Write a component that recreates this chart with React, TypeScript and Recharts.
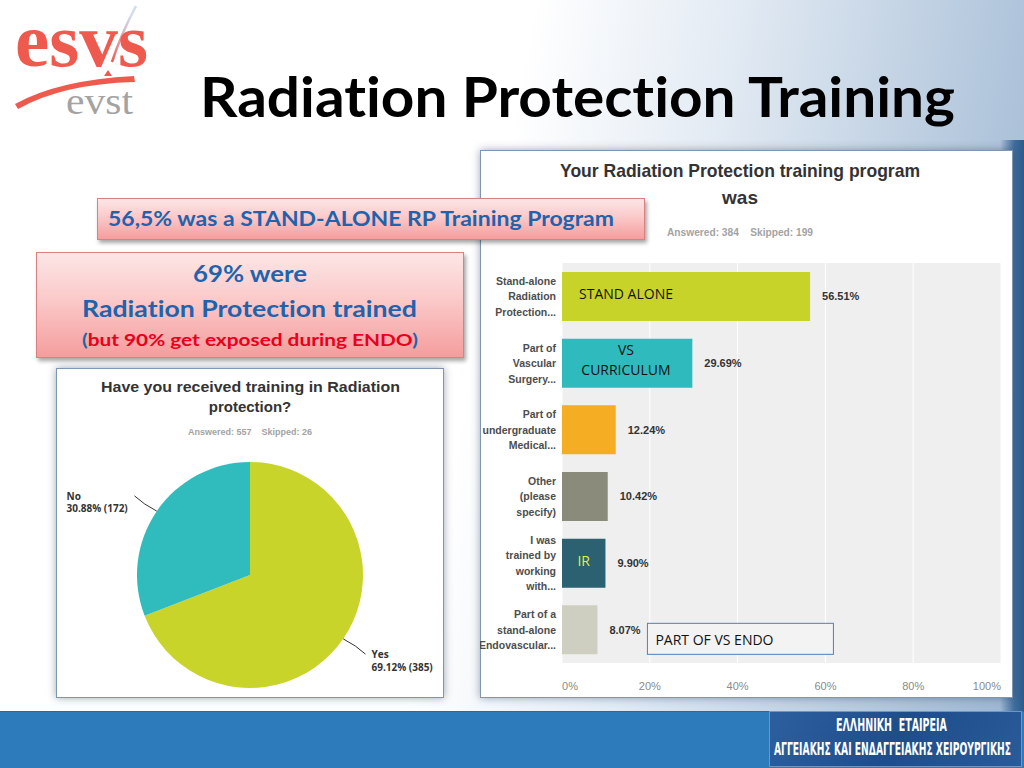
import { Bar, BarChart, CartesianGrid, Cell, LabelList, Pie, PieChart, XAxis, YAxis } from 'recharts';

// bar chart: "Your Radiation Protection training program was"
const programCategories = [
  'Stand-alone|Radiation|Protection...',
  'Part of|Vascular|Surgery...',
  'Part of|undergraduate|Medical...',
  'Other|(please|specify)',
  'I was|trained by|working|with...',
  'Part of a|stand-alone|Endovascular...',
];
const programShares = [56.51, 29.69, 12.24, 10.42, 9.9, 8.07];
const programNotes = ['STAND ALONE', 'VS|CURRICULUM', '', '', 'IR', ''];
const programCallouts = ['', '', '', '', '', 'PART OF VS ENDO'];
const axisTicks = [0, 20, 40, 60, 80, 100];

const programColors = ['#c8d32a', '#2fbbbd', '#f5ad23', '#8b8b7b', '#2b6171', '#cfcfc1'];
const noteColors = ['#111111', '#111111', '#111111', '#111111', '#e6f03a', '#111111'];

// pie chart: "Have you received training in Radiation protection?"
const trainedLabels = ['Yes', 'No'];
const trainedShares = [69.12, 30.88];
const trainedCounts = [385, 172];
const trainedColors = ['#c9d42b', '#30bcbd'];

const chartFont = '"Liberation Sans", Arial, sans-serif';
const slideFont = 'Lato, "Open Sans", sans-serif';
const RADIAN = Math.PI / 180;

const programData = programCategories.map((name, i) => ({
  name,
  value: programShares[i],
  note: programNotes[i],
  callout: programCallouts[i],
}));

const trainedData = trainedLabels.map((name, i) => ({
  name,
  value: trainedCounts[i],
  share: trainedShares[i],
}));

const CategoryTick = (props: any) => {
  const { x, y, payload } = props;
  const lines = String(payload.value).split('|');
  const lh = 15.5;
  const y0 = y - ((lines.length - 1) * lh) / 2;
  return (
    <text x={x} y={y0} textAnchor="end" dominantBaseline="central" fill="#4d4d4d" fontSize={10.5} fontWeight="bold" fontFamily={chartFont}>
      {lines.map((l, i) => (
        <tspan key={i} x={x} dy={i === 0 ? 0 : lh}>{l}</tspan>
      ))}
    </text>
  );
};

const PercentTick = (props: any) => {
  const { x, y, payload } = props;
  const v = payload.value;
  const anchor = v === axisTicks[0] ? 'start' : v === axisTicks[axisTicks.length - 1] ? 'end' : 'middle';
  return (
    <text x={x} y={y + 15} textAnchor={anchor} dominantBaseline="central" fill="#8a8a8a" fontSize={11} fontFamily={chartFont}>
      {v}%
    </text>
  );
};

const NoteLabel = (props: any) => {
  const { x, y, width, value, index } = props;
  if (!value) return null;
  const lines = String(value).split('|');
  const cx = x + Math.min(width / 2, 64);
  const color = noteColors[index] || '#111111';
  return (
    <text x={cx} textAnchor="middle" dominantBaseline="central" fill={color} fontSize={14} fontFamily='"Open Sans", sans-serif'>
      {lines.length === 1 ? (
        <tspan x={cx} y={y + 21}>{lines[0]}</tspan>
      ) : (
        lines.map((l, i) => (
          <tspan key={i} x={cx} y={y + 10 + i * 20}>{l}</tspan>
        ))
      )}
    </text>
  );
};

const CalloutLabel = (props: any) => {
  const { x, y, width, value } = props;
  if (!value) return null;
  const bx = x + width + 50;
  const by = y + 18;
  return (
    <g>
      <rect x={bx} y={by} width={186} height={31} fill="#f3f3f3" stroke="#4f81bd" strokeWidth={1} />
      <text x={bx + 8} y={by + 16} dominantBaseline="central" fill="#111" fontSize={14} fontFamily='"Open Sans", sans-serif'>
        {value}
      </text>
    </g>
  );
};

const renderTrainedLabel = (props: any) => {
  const { cx, cy, midAngle, outerRadius, index } = props;
  const cos = Math.cos(-midAngle * RADIAN);
  const sin = Math.sin(-midAngle * RADIAN);
  const sx = cx + outerRadius * cos;
  const sy = cy + outerRadius * sin;
  const mx = cx + (outerRadius + 16) * cos;
  const my = cy + (outerRadius + 12) * sin;
  const ex = cx + (outerRadius + 27) * cos;
  const ey = cy + (outerRadius + 27) * sin;
  const right = cos >= 0;
  const tx = right ? ex + 6 : ex - 68;
  return (
    <g>
      <path d={`M${sx},${sy} Q${mx},${my} ${ex},${ey}`} stroke="#333" strokeWidth={1} fill="none" />
      <text x={tx} y={ey} dominantBaseline="central" fill="#333" fontSize={10} fontWeight="bold" fontFamily='"Open Sans", sans-serif'>
        <tspan x={tx}>{trainedLabels[index]}</tspan>
        <tspan x={tx} dy={12.5}>{`${trainedShares[index].toFixed(2)}% (${trainedCounts[index]})`}</tspan>
      </text>
    </g>
  );
};

const pinkBox = {
  position: 'absolute' as const,
  background: 'linear-gradient(to bottom, #fde6e6 0%, #fbc9c9 45%, #f59d9d 100%)',
  border: '1px solid #d98080',
  boxShadow: '2px 3px 4px rgba(0,0,0,0.35)',
};

const panel = {
  position: 'absolute' as const,
  background: '#ffffff',
  border: '1px solid #7f96b2',
  boxShadow: '0 0 8px rgba(40,60,90,0.45)',
};

const noLig = { fontVariantLigatures: 'none' as const };

export default function App() {
  return (
    <div
      style={{
        position: 'absolute',
        left: 0,
        top: 0,
        width: 1024,
        height: 768,
        overflow: 'hidden',
        background:
          'linear-gradient(100deg, #ffffff 0%, #ffffff 46%, #e2eaf3 64%, #b8cbdf 84%, #98b3d0 100%)',
      }}
    >
      {/* darker right edge */}
      <div
        style={{
          position: 'absolute',
          left: 1000,
          top: 140,
          width: 24,
          height: 571,
          background: 'linear-gradient(to right, rgba(60,100,150,0) 0%, #3f6d9d 60%, #2c5a8a 100%)',
        }}
      />
      {/* bottom band */}
      <div style={{ position: 'absolute', left: 0, top: 711, width: 1024, height: 57, background: '#2e7bbb', borderTop: '1px solid #2868a3' }} />

      {/* panels */}
      <div style={{ ...panel, left: 56, top: 368, width: 386, height: 328 }} />
      <div style={{ ...panel, left: 480, top: 150, width: 531, height: 546 }} />

      {/* pink statement boxes */}
      <div style={{ ...pinkBox, left: 97, top: 198, width: 546, height: 40 }} />
      <div style={{ ...pinkBox, left: 36, top: 252, width: 426, height: 104 }} />

      {/* greek society logo */}
      <div
        style={{
          position: 'absolute',
          left: 769,
          top: 711,
          width: 251,
          height: 54,
          background: 'linear-gradient(120deg, #2d5f9f 0%, #1f4d8b 50%, #2a5a98 100%)',
          border: '1px solid #6f95c6',
        }}
      />

      <div style={{ position: 'absolute', left: 56, top: 368 }}>
        <PieChart width={388} height={330}>
          <Pie
            data={trainedData}
            dataKey="value"
            nameKey="name"
            cx={189}
            cy={202}
            outerRadius={113}
            startAngle={90}
            endAngle={-270}
            stroke="none"
            labelLine={false}
            label={renderTrainedLabel}
            isAnimationActive={false}
          >
            {trainedData.map((d, i) => (
              <Cell key={d.name} fill={trainedColors[i]} />
            ))}
          </Pie>
        </PieChart>
      </div>

      <div style={{ position: 'absolute', left: 480, top: 255 }}>
        <BarChart
          width={533}
          height={443}
          data={programData}
          layout="vertical"
          margin={{ top: 8, right: 12, bottom: 0, left: 0 }}
        >
          <CartesianGrid horizontal={false} stroke="#ffffff" fill="#efefef" />
          <XAxis
            type="number"
            domain={[0, 100]}
            ticks={axisTicks}
            axisLine={false}
            tickLine={false}
            height={35}
            tick={<PercentTick />}
          />
          <YAxis
            type="category"
            dataKey="name"
            width={82}
            axisLine={false}
            tickLine={false}
            tickSize={4}
            tickMargin={2}
            tick={<CategoryTick />}
            interval={0}
          />
          <Bar dataKey="value" barSize={49} isAnimationActive={false}>
            {programData.map((d, i) => (
              <Cell key={d.name} fill={programColors[i]} />
            ))}
            <LabelList
              dataKey="value"
              position="right"
              offset={12}
              formatter={(v: any) => `${Number(v).toFixed(2)}%`}
              fill="#333"
              fontSize={11}
              fontWeight="bold"
              fontFamily={chartFont}
            />
            <LabelList dataKey="note" content={<NoteLabel />} />
            <LabelList dataKey="callout" content={<CalloutLabel />} />
          </Bar>
        </BarChart>
      </div>

      {/* slide text */}
      <svg width={1024} height={768} style={{ position: 'absolute', left: 0, top: 0, pointerEvents: 'none' }}>
        <defs>
          <linearGradient id="swoosh" x1="0" y1="1" x2="0.3" y2="0">
            <stop offset="0%" stopColor="#ef5a4f" />
            <stop offset="100%" stopColor="#a9b8e0" stopOpacity={0.5} />
          </linearGradient>
        </defs>

        {/* esvs logo */}
        <path d="M112,62 Q121,34 136,6" stroke="url(#swoosh)" strokeWidth={2.5} fill="none" />
        <text x={15} y={66} fill="#ef5a4f" fontSize={76} fontWeight="bold" fontFamily='"Liberation Serif", serif' textLength={133} lengthAdjust="spacingAndGlyphs">
          esvs
        </text>
        <path d="M15,104 Q58,80 134,76 L135,82 Q62,84 18,109 Z" fill="#ef5a4f" />
        <path d="M104,76 L108,70 L112,76 Z" fill="#ef5a4f" />
        <text x={66} y={114} fill="#a3a3a3" fontSize={38} fontFamily='"Liberation Serif", serif' textLength={67} lengthAdjust="spacingAndGlyphs">
          evst
        </text>

        {/* title */}
        <text x={200} y={117} fill="#000" fontSize={56} fontWeight="bold" fontFamily={slideFont} textLength={755} lengthAdjust="spacingAndGlyphs" style={noLig}>
          Radiation Protection Training
        </text>

        {/* statement boxes */}
        <text x={108} y={226} fill="#1f63ad" fontSize={20} fontWeight="bold" fontFamily={slideFont} textLength={506} lengthAdjust="spacingAndGlyphs" style={noLig}>
          56,5% was a STAND-ALONE RP Training Program
        </text>
        <text x={193} y={282} fill="#1f63ad" fontSize={23} fontWeight="bold" fontFamily={slideFont} textLength={114} lengthAdjust="spacingAndGlyphs" style={noLig}>
          69% were
        </text>
        <text x={82} y={317} fill="#1f63ad" fontSize={23} fontWeight="bold" fontFamily={slideFont} textLength={335} lengthAdjust="spacingAndGlyphs" style={noLig}>
          Radiation Protection trained
        </text>
        <text x={82} y={346} fill="#e8001c" fontSize={17} fontWeight="bold" fontFamily={slideFont} textLength={336} lengthAdjust="spacingAndGlyphs" style={noLig}>
          <tspan fill="#1f63ad">(</tspan>but 90% get exposed during ENDO<tspan fill="#1f63ad">)</tspan>
        </text>

        {/* pie panel heading */}
        <text x={101} y={392} fill="#333" fontSize={15} fontWeight="bold" fontFamily={chartFont} textLength={299} lengthAdjust="spacingAndGlyphs">
          Have you received training in Radiation
        </text>
        <text x={250} y={412} textAnchor="middle" fill="#333" fontSize={15} fontWeight="bold" fontFamily={chartFont}>
          protection?
        </text>
        <text x={250} y={435} textAnchor="middle" fill="#a3a3a3" fontSize={9} fontWeight="bold" fontFamily={chartFont}>
          Answered: 557{'\u00a0\u00a0\u00a0\u00a0'}Skipped: 26
        </text>

        {/* bar panel heading */}
        <text x={560} y={177} fill="#333" fontSize={19} fontWeight="bold" fontFamily={chartFont} textLength={360} lengthAdjust="spacingAndGlyphs">
          Your Radiation Protection training program
        </text>
        <text x={740} y={204} textAnchor="middle" fill="#333" fontSize={19} fontWeight="bold" fontFamily={chartFont}>
          was
        </text>
        <text x={667} y={236} fill="#a3a3a3" fontSize={10} fontWeight="bold" fontFamily={chartFont} textLength={146} lengthAdjust="spacingAndGlyphs">
          Answered: 384{'\u00a0\u00a0\u00a0\u00a0'}Skipped: 199
        </text>

        {/* greek logo text */}
        <text x={836} y={731} fill="#ffffff" fontSize={17} fontWeight="bold" fontFamily='"DejaVu Sans Condensed", "DejaVu Sans", sans-serif' textLength={111} lengthAdjust="spacingAndGlyphs">
          ΕΛΛΗΝΙΚΗ{'\u00a0\u00a0'}ΕΤΑΙΡΕΙΑ
        </text>
        <text x={774} y={755} fill="#ffffff" fontSize={17} fontWeight="bold" fontFamily='"DejaVu Sans Condensed", "DejaVu Sans", sans-serif' textLength={237} lengthAdjust="spacingAndGlyphs">
          ΑΓΓΕΙΑΚΗΣ ΚΑΙ ΕΝΔΑΓΓΕΙΑΚΗΣ ΧΕΙΡΟΥΡΓΙΚΗΣ
        </text>
      </svg>
    </div>
  );
}
